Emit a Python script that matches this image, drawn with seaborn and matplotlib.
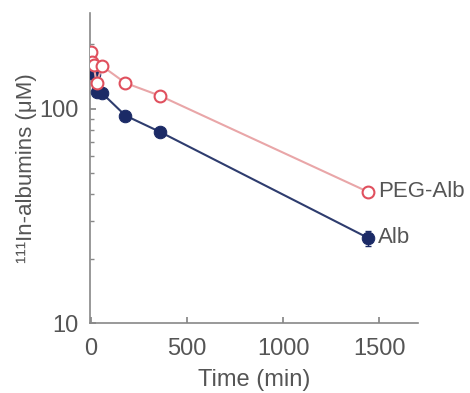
import matplotlib
matplotlib.use("Agg")
import matplotlib.pyplot as plt
import seaborn as sns
import pandas as pd
import numpy as np
from matplotlib.ticker import LogLocator, NullFormatter, FixedLocator

# data
time_min = [0, 5, 15, 30, 60, 180, 360, 1440]
alb = [160, 150, 145, 120, 118, 93, 78, 25]
alb_err = [6, 5, 5, 4, 4, 3, 3, 2]
peg_alb = [185, 165, 160, 132, 158, 132, 115, 41]
peg_err = [8, 6, 6, 5, 7, 4, 4, 2]
series_names = ["PEG-Alb", "Alb"]
x_ticks = [0, 500, 1000, 1500]

sns.set_theme(style="ticks")
plt.rcParams['font.family'] = ['Liberation Sans', 'DejaVu Sans']

df = pd.DataFrame({
    "time": time_min * 2,
    "value": peg_alb + alb,
    "series": [series_names[0]] * len(time_min) + [series_names[1]] * len(time_min),
})

fig = plt.figure(figsize=(4.7, 3.93), dpi=100)
ax = fig.add_axes([0.191, 0.178, 0.698, 0.789])

navy = "#1b2a66"
navy_line = "#2e3c6e"
pink_line = "#e9a6a8"
red_edge = "#e0505e"
txt = "#555555"

ax.errorbar(time_min, alb, yerr=alb_err, fmt="none", ecolor=navy, elinewidth=1, capsize=2.5, zorder=2)
ax.errorbar(time_min, peg_alb, yerr=peg_err, fmt="none", ecolor=red_edge, elinewidth=1, capsize=2.5, zorder=2)

sns.lineplot(data=df[df.series == "Alb"], x="time", y="value", ax=ax, color=navy_line,
             lw=1.5, marker="o", markersize=9, markerfacecolor=navy, markeredgecolor=navy,
             legend=False, zorder=3)
sns.lineplot(data=df[df.series == "PEG-Alb"], x="time", y="value", ax=ax, color=pink_line,
             lw=1.5, marker="o", markersize=8.5, markerfacecolor="white", markeredgecolor=red_edge,
             markeredgewidth=1.5, legend=False, zorder=4)

ax.set_yscale("log")
ax.set_ylim(10, 280)
ax.set_xlim(-5, 1700)
ax.xaxis.set_major_locator(FixedLocator(x_ticks))
ax.yaxis.set_major_locator(FixedLocator([10, 100]))
ax.yaxis.set_minor_locator(LogLocator(base=10, subs=np.arange(2, 10)))
ax.yaxis.set_minor_formatter(NullFormatter())
ax.set_yticklabels(["10", "100"])

for s in ["top", "right"]:
    ax.spines[s].set_visible(False)
for s in ["left", "bottom"]:
    ax.spines[s].set_color("#888888")
    ax.spines[s].set_linewidth(1.2)

ax.tick_params(axis="x", which="major", direction="in", length=4, color="#888888",
               labelsize=17, labelcolor=txt, pad=11)
ax.tick_params(axis="y", which="major", direction="in", length=4, color="#888888",
               labelsize=17, labelcolor=txt, pad=8)
ax.tick_params(axis="y", which="minor", direction="in", length=3, color="#888888")

ax.set_xlabel("Time (min)", fontsize=17, color=txt, labelpad=6)
ax.set_ylabel("¹¹¹In-albumins (μM)", fontsize=16, color=txt, labelpad=2)

ax.text(1495, peg_alb[-1], series_names[0], fontsize=16, color=txt, va="center", ha="left")
ax.text(1495, alb[-1], series_names[1], fontsize=16, color=txt, va="center", ha="left")

fig.savefig("out.png", dpi=100)
